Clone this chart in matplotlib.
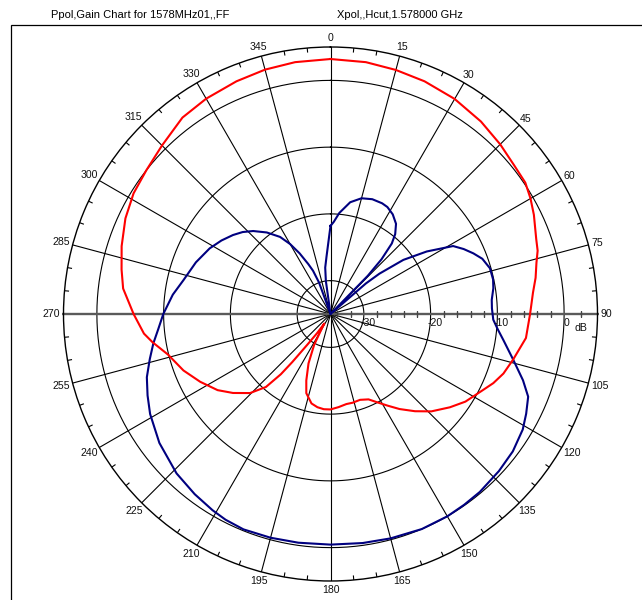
import numpy as np
import matplotlib
matplotlib.use("Agg")
import matplotlib.pyplot as plt
from matplotlib import font_manager
from matplotlib.patches import Rectangle
from matplotlib.transforms import ScaledTranslation

# Co-polar (Ppol) gain pattern, azimuth in degrees -> gain in dB
ppol_angle = [0, 8, 15, 22, 30, 38, 45, 51, 56, 60, 64, 70, 73, 76, 80, 84,
              90, 97, 104, 109, 113, 117, 123, 128, 134, 139, 144, 148, 152,
              156, 161, 166, 170, 175, 180, 184, 188, 192, 197, 200, 204, 208,
              211, 213, 215, 217, 218.5, 219.5, 221.5, 225.5, 231, 236, 242.5,
              249, 256, 261, 264, 270, 277, 282, 288, 295, 301.5, 308, 315,
              323, 330, 338, 345, 352]
ppol_gain = [3.2, 3.1, 2.85, 2.6, 2.2, 1.6, 0.95, 0.4, 0.2, -0.4, -1.1, -2.2,
             -2.55, -3.2, -3.8, -4.5, -5.1, -5.5, -6.8, -7.6, -8.5, -9.6,
             -10.9, -12.3, -14.0, -15.7, -17.4, -18.8, -20.0, -21.0, -21.4,
             -21.3, -21.3, -21.0, -20.7, -20.7, -20.9, -21.3, -22.6, -24.4,
             -26.9, -29.8, -32.5, -33.3, -31.5, -29.3, -25.8, -23.3, -20.4,
             -18.1, -16.2, -14.6, -13.0, -11.4, -9.9, -8.0, -6.9, -5.5, -3.7,
             -3.0, -2.1, -1.1, -0.4, 0.0, 0.7, 1.85, 2.25, 2.6, 2.9, 3.1]

# Cross-polar (Xpol) pattern
xpol_angle = [0, 2, 5, 10, 15, 20, 25, 28, 32, 36, 39, 41, 43, 44.3, 45.5, 48,
              49.2, 50.5, 53.4, 57, 61, 64, 67, 70, 74, 78, 81, 85, 88, 92, 95,
              98.6, 104, 109, 112.7, 117, 121, 127, 133, 140, 145, 150, 157,
              165, 172, 180, 188, 195, 202, 207, 211, 217, 224, 233, 241, 246,
              251, 256, 260.6, 265, 270, 277, 283, 291, 298.5, 304, 309, 313,
              317, 322, 326.8, 330, 333, 336, 338, 340, 342, 350, 352, 353.5,
              356]
xpol_gain = [-21.8, -21.2, -19.8, -18.0, -17.05, -16.7, -16.7, -16.85, -17.4,
             -18.3, -19.6, -21.0, -23.8, -27.0, -35.0, -35.0, -28.0, -25.5,
             -21.4, -17.8, -14.0, -12.8, -11.75, -10.8, -10.15, -10.1, -10.3,
             -10.75, -10.8, -10.6, -9.9, -8.8, -6.8, -4.5, -2.9, -2.1, -1.4,
             -0.8, -0.5, -0.2, -0.1, 0.0, 0.0, -0.2, -0.35, -0.45, -0.4, -0.3,
             -0.2, -0.4, -0.7, -1.2, -1.8, -2.9, -4.1, -5.0, -5.9, -7.1, -8.1,
             -9.1, -9.95, -11.2, -12.4, -13.4, -14.4, -15.3, -16.2, -17.0,
             -18.0, -19.5, -21.2, -22.9, -24.8, -26.8, -28.0, -30.0, -35.0,
             -35.0, -30.0, -28.0, -26.4]

angle_ticks = list(range(0, 360, 15))
angle_labels = [str(a) for a in angle_ticks]
ring_values = [-30, -20, -10, 0]
ring_labels = ["-30", "-20", "-10", "0"]
radial_minor = [-34, -32, -28, -26, -24, -22, -18, -16, -14, -12, -8, -6, -4,
                -2, 2.5]
title_left = "Ppol,Gain Chart for 1578MHz01,,FF"
title_right = "Xpol,,Hcut,1.578000 GHz"

R_MIN, R_MAX = -35.0, 5.0

W, H = 642, 600
CX, CY, RAD = 330.5, 314.0, 267.0
PX_PER_DB = RAD / (R_MAX - R_MIN)


def pick_family(*names):
    avail = {f.name for f in font_manager.fontManager.ttflist}
    return [n for n in names if n in avail] + ["DejaVu Sans"]


label_font = pick_family("Liberation Sans", "Arimo")

fig = plt.figure(figsize=(W / 100, H / 100), dpi=100)
fig.patch.set_facecolor("white")

ax = fig.add_axes([(CX - RAD) / W, 1 - (CY + RAD) / H, 2 * RAD / W, 2 * RAD / H],
                  projection="polar")
ax.set_theta_zero_location("N")
ax.set_theta_direction(-1)
ax.set_rlim(R_MIN, R_MAX)
ax.set_xticks([])
ax.set_yticks([])
ax.grid(False)
ax.spines["polar"].set_linewidth(1.0)
ax.spines["polar"].set_color("black")

# dB rings
ring_theta = np.linspace(0, 2 * np.pi, 721)
for v in ring_values:
    ax.plot(ring_theta, np.full_like(ring_theta, v), color="black", lw=0.8, zorder=1)

# 15-degree spokes
for a in angle_ticks:
    if a in (90, 270):
        continue
    t = np.deg2rad(a)
    ax.plot([t, t], [R_MIN, R_MAX], color="black", lw=0.8, zorder=1)

# horizontal axis (90 / 270) in grey
for a in (90, 270):
    t = np.deg2rad(a)
    ax.plot([t, t], [R_MIN, R_MAX + 0.25], color="#5a5a5a", lw=1.7, zorder=2,
            clip_on=False, solid_capstyle="butt")

# 5-degree ticks on the outer circle
tick_len = 4.0 / PX_PER_DB
for a in range(0, 360, 5):
    if a % 15 == 0:
        continue
    t = np.deg2rad(a)
    ax.plot([t, t], [R_MAX - tick_len, R_MAX], color="black", lw=0.8, zorder=1)

# minor ticks along the dB axis
ax.plot(np.full(len(radial_minor), np.pi / 2), radial_minor, ls="none",
        marker="|", ms=4.5, mew=1.0, color="#444444", zorder=2)

# pattern curves
ta = np.deg2rad(np.append(ppol_angle, ppol_angle[0] + 360))
ax.plot(ta, np.append(ppol_gain, ppol_gain[0]), color="#ff0000", lw=1.5, zorder=4)
tx = np.deg2rad(np.append(xpol_angle, xpol_angle[0] + 360))
ax.plot(tx, np.append(xpol_gain, xpol_gain[0]), color="#000080", lw=1.5, zorder=3)

# angle labels
for a, s in zip(angle_ticks, angle_labels):
    t = np.deg2rad(a)
    r_px = 276 + (len(s) - 2) * 3 * abs(np.sin(t))
    ax.text(t, R_MIN + r_px / PX_PER_DB, s, ha="center", va="center",
            fontsize=7.6, family=label_font, clip_on=False, color="#111111")

# dB labels below the axis
for v, s in zip(ring_values, ring_labels):
    dx = 0.02 if s == "0" else 0.04
    off = ScaledTranslation(dx, -0.093, fig.dpi_scale_trans)
    ax.text(np.pi / 2, v, s, ha="center", va="center", fontsize=7.6,
            family=label_font, transform=ax.transData + off, color="#111111")
off = ScaledTranslation(0.17, -0.137, fig.dpi_scale_trans)
ax.text(np.pi / 2, 0, "dB", ha="center", va="center", fontsize=7.6,
        family=label_font, transform=ax.transData + off, color="#111111")

# frame and headings
fig.add_artist(Rectangle((11 / W, -0.05), 1.2, 1 - 25 / H + 0.05,
                         transform=fig.transFigure, fill=False, ec="black", lw=0.9))
fig.text(140 / W, 1 - 15 / H, title_left, ha="center", va="center",
         fontsize=8.0, family=label_font)
fig.text(400 / W, 1 - 15 / H, title_right, ha="center", va="center",
         fontsize=8.0, family=label_font)

fig.savefig("out.png", dpi=100)
